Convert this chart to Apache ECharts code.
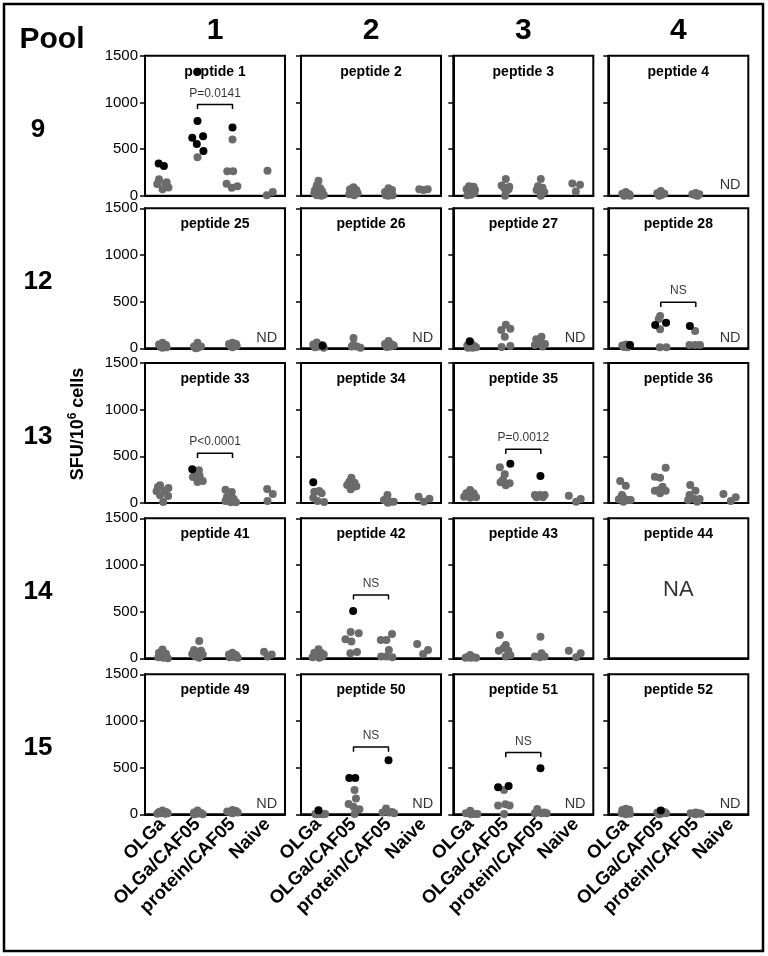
<!DOCTYPE html>
<html><head><meta charset="utf-8">
<script src="https://cdn.jsdelivr.net/npm/echarts@6/dist/echarts.min.js"></script>
<style>html,body{margin:0;padding:0;background:#fff}#c{width:768px;height:956px}</style>
</head><body><div id="c"></div>
<script>
// ---------- data ----------
const categories = ['OLGa', 'OLGa/CAF05', 'protein/CAF05', 'Naive'];
const yTicks = [0, 500, 1000, 1500];
const poolLabels = ['9', '12', '13', '14', '15'];
const columnLabels = ['1', '2', '3', '4'];
const peptideGrid = [[1, 2, 3, 4], [25, 26, 27, 28], [33, 34, 35, 36], [41, 42, 43, 44], [49, 50, 51, 52]];

// points: [category position (index + jitter), SFU/10^6 cells]
const pep1Gray = [[-0.1,175],[-0.15,125],[0.08,130],[0.0,68],[0.17,89],[0.12,145],[1.0,411],[2.0,603],[1.85,261],[2.02,261],[1.83,129],[1.98,86],[2.14,100],[3.0,268],[2.98,5],[3.15,40]];
const pep1Black = [[-0.11,346],[0.04,318],[1.0,1328],[1.0,800],[0.85,621],[1.16,636],[0.98,553],[1.17,478],[2.0,732]];
const pep2Gray = [[0,160],[-0.05,110],[0.05,80],[-0.1,60],[0.1,50],[-0.12,30],[0.03,20],[0.15,10],[-0.05,5],[0.08,0],[1,90],[0.9,70],[1.08,60],[0.95,40],[1.12,25],[0.88,15],[1.02,5],[2,80],[2.1,60],[1.9,40],[2.05,20],[1.92,5],[2.12,5],[2,0],[2.88,70],[3.0,60],[3.12,70]];
const pep2Black = [];
const pep3Gray = [[-0.05,100],[0.08,95],[-0.12,70],[0.12,60],[0,50],[-0.08,30],[0.1,25],[0,10],[-0.1,5],[1,180],[0.88,110],[1.1,95],[0.95,85],[1.08,70],[1,40],[0.98,0],[2,180],[1.92,100],[2.05,85],[1.88,60],[2.1,40],[2,25],[2,0],[2.9,131],[3.12,117],[3.0,46]];
const pep3Black = [];
const pep4Gray = [[0,40],[-0.1,20],[0.1,15],[0,5],[-0.05,0],[0.12,0],[1,50],[0.9,25],[1.1,20],[1,5],[0.95,0],[2,30],[1.9,15],[2.1,15],[2,5],[2.05,0]];
const pep4Black = [];
const pep25Gray = [[0,60],[-0.1,40],[0.1,35],[-0.05,15],[0.12,10],[0,5],[1,60],[0.9,20],[1.1,20],[1,5],[0.95,0],[2,60],[1.9,45],[2.1,45],[1.95,25],[2.12,25],[2,10]];
const pep25Black = [];
const pep26Gray = [[-0.05,61],[-0.15,40],[0.1,35],[0,20],[0.15,5],[-0.1,10],[1,111],[0.95,18],[1.1,18],[1.2,5],[1,40],[2,78],[1.9,45],[2.1,40],[2.05,20],[1.95,15],[2.15,30]];
const pep26Black = [[0.12,28]];
const pep27Gray = [[0,60],[-0.1,30],[0.1,25],[0.05,5],[-0.08,5],[0.15,10],[0.87,196],[1.0,253],[1.13,210],[0.97,125],[0.88,14],[1.13,25],[2.02,125],[1.87,96],[1.98,60],[2.12,45],[1.83,36],[2.05,20]];
const pep27Black = [[-0.03,75]];
const pep28Gray = [[0,40],[-0.1,30],[0.1,30],[-0.05,15],[0.05,10],[0.98,346],[0.94,314],[0.98,204],[0.97,11],[1.16,11],[1.98,186],[1.82,36],[1.98,36],[2.12,36]];
const pep28Black = [[0.12,36],[0.84,250],[1.15,275],[1.83,239]];
const pep33Gray = [[-0.07,189],[0.17,161],[-0.17,125],[0.06,130],[-0.07,82],[0.16,75],[0.02,11],[-0.13,171],[0.93,325],[1.04,350],[1.06,293],[0.87,279],[1.0,225],[1.15,236],[1.8,143],[1.98,118],[1.84,64],[2.03,46],[1.8,21],[1.95,7],[2.1,7],[2.99,150],[3.15,96],[3.0,21]];
const pep33Black = [[0.85,361]];
const pep34Gray = [[0.02,129],[-0.12,121],[0.09,104],[-0.15,57],[-0.03,21],[0.16,11],[0.94,271],[0.88,229],[1.03,218],[0.82,193],[1.0,175],[0.92,146],[1.08,180],[1.97,86],[1.87,32],[2.06,14],[2.15,14],[1.98,4],[2.86,68],[3.17,46],[3.01,14]];
const pep34Black = [[-0.15,221]];
const pep35Gray = [[-0.02,139],[-0.13,104],[0.08,104],[-0.02,57],[-0.19,68],[0.15,61],[0.83,382],[0.97,307],[0.85,221],[1.11,211],[1.0,189],[0.92,250],[1.83,86],[1.97,86],[2.11,86],[1.88,61],[2.06,61],[2.8,79],[3.14,43],[3.01,14]];
const pep35Black = [[1.13,421],[1.99,289]];
const pep36Gray = [[-0.16,236],[0,186],[-0.11,86],[-0.07,57],[-0.2,39],[0.05,32],[0.14,32],[-0.07,14],[0.83,282],[0.98,271],[1.14,379],[1.05,175],[0.95,139],[0.83,132],[1.14,132],[0.98,104],[1.84,193],[1.99,132],[1.82,86],[1.96,43],[2.11,43],[1.78,32],[2.04,14],[2.79,96],[3.14,61],[3.0,21]];
const pep36Black = [];
const pep41Gray = [[0,95],[-0.1,60],[0.1,50],[-0.05,30],[0.08,20],[-0.12,10],[0.02,5],[0.15,0],[1.05,185],[0.9,90],[1.1,80],[1,60],[0.85,45],[1.15,40],[0.95,20],[1.05,5],[2,60],[1.9,40],[2.1,35],[2.05,15],[1.92,10],[2.15,5],[2.9,70],[3.12,40],[3.0,20]];
const pep41Black = [];
const pep42Gray = [[0,96],[-0.12,60],[0.07,60],[-0.08,25],[0.11,18],[-0.17,11],[0.15,40],[0.02,5],[0.92,282],[1.15,268],[0.77,204],[0.94,179],[0.91,54],[1.1,68],[1.78,196],[1.94,196],[2.1,261],[2.01,89],[1.79,18],[1.94,18],[2.11,11],[2.82,154],[3.13,89],[2.99,46]];
const pep42Black = [[0.99,507]];
const pep43Gray = [[-0.02,36],[-0.11,11],[0.08,11],[0.0,5],[-0.15,5],[0.15,5],[0.83,250],[1,143],[0.93,107],[0.8,82],[1.07,82],[1,18],[1.13,32],[1.99,232],[2.02,54],[1.83,18],[2.11,18],[1.97,11],[2.8,82],[3.14,54],[3.01,11]];
const pep43Black = [];
const pep44Gray = [];
const pep44Black = [];
const pep49Gray = [[0,40],[-0.1,25],[0.1,25],[-0.05,10],[0.08,5],[0.15,10],[-0.15,5],[1,40],[0.9,20],[1.1,15],[1,5],[0.9,0],[1.15,0],[2,45],[1.85,30],[2.1,35],[1.95,20],[2.15,20],[2,10]];
const pep49Black = [];
const pep50Gray = [[-0.09,4],[0.05,4],[0.19,4],[-0.05,0],[0.12,0],[1.03,261],[1.07,168],[0.86,111],[1.0,82],[1.17,54],[1.03,4],[1.93,61],[1.83,18],[2.02,18],[2.16,11],[2.1,25]];
const pep50Black = [[0,43],[0.88,389],[1.05,389],[2.0,579]];
const pep51Gray = [[-0.02,39],[-0.14,11],[0.09,4],[0.19,4],[0.0,0],[0.95,261],[0.78,93],[0.99,107],[1.11,93],[0.95,4],[1.9,57],[1.83,11],[2.02,11],[2.17,11],[2.1,20]];
const pep51Black = [[0.78,289],[1.08,304],[1.99,493]];
const pep52Gray = [[0,60],[-0.1,45],[0.1,50],[-0.05,25],[0.08,20],[-0.12,10],[0.12,5],[0,0],[0.9,20],[1.1,25],[1,5],[0.95,0],[1.15,10],[2,20],[1.85,10],[2.1,10],[1.95,5],[2.15,5],[2,0]];
const pep52Black = [[1,40]];

// significance brackets (OLGa/CAF05 vs protein/CAF05)
const bracketPeptides = [1, 28, 33, 35, 42, 50, 51];
const bracketLabels = ['P=0.0141', 'NS', 'P<0.0001', 'P=0.0012', 'NS', 'NS', 'NS'];
const bracketLevels = [978, 493, 532, 575, 679, 721, 661];
const ndPeptides = [4, 25, 26, 27, 28, 49, 50, 51, 52];
const naPeptides = [44];

// ---------- layout ----------
const pointSets = {
  1:[pep1Gray,pep1Black],2:[pep2Gray,pep2Black],3:[pep3Gray,pep3Black],4:[pep4Gray,pep4Black],
  25:[pep25Gray,pep25Black],26:[pep26Gray,pep26Black],27:[pep27Gray,pep27Black],28:[pep28Gray,pep28Black],
  33:[pep33Gray,pep33Black],34:[pep34Gray,pep34Black],35:[pep35Gray,pep35Black],36:[pep36Gray,pep36Black],
  41:[pep41Gray,pep41Black],42:[pep42Gray,pep42Black],43:[pep43Gray,pep43Black],44:[pep44Gray,pep44Black],
  49:[pep49Gray,pep49Black],50:[pep50Gray,pep50Black],51:[pep51Gray,pep51Black],52:[pep52Gray,pep52Black]
};
const colLeft = [145, 301, 453.3, 608.3];
const rowTop = [55.7, 208.3, 363, 518.3, 674.3];
const W = 140, H = 140;
const FONT = '"Liberation Sans", Arial, sans-serif';
const GRAY = '#6b6b6b';

const grid = [], xAxis = [], yAxis = [], series = [], graphic = [];
let gi = 0;
peptideGrid.forEach((row, r) => {
  row.forEach((pep, c) => {
    grid.push({ show: true, left: colLeft[c], top: rowTop[r], width: W, height: H,
      borderColor: '#000', borderWidth: 2, backgroundColor: '#fff' });
    const bottom = r === peptideGrid.length - 1;
    xAxis.push({ type: 'category', gridIndex: gi, data: categories, boundaryGap: true, position: 'bottom',
      axisLine: { onZero: false, lineStyle: { color: '#000', width: 2 } },
      axisTick: { alignWithLabel: true, length: 5, lineStyle: { color: '#000', width: 1.5 } },
      axisLabel: { show: bottom, rotate: 45, margin: 7, color: '#000', fontWeight: 'bold', fontSize: 18.5, fontFamily: FONT, interval: 0 },
      splitLine: { show: false } });
    xAxis.push({ type: 'value', gridIndex: gi, min: -0.5, max: 3.5, show: false });
    yAxis.push({ type: 'value', gridIndex: gi, min: yTicks[0], max: yTicks[yTicks.length - 1], interval: 500, position: 'left',
      axisLine: { show: true, onZero: false, lineStyle: { color: '#000', width: 2 } },
      axisTick: { show: true, length: 5, lineStyle: { color: '#000', width: 1.5 } },
      axisLabel: { show: c === 0, color: '#000', fontSize: 15, fontFamily: FONT, margin: 7, formatter: v => String(v) },
      splitLine: { show: false } });
    const [g, b] = pointSets[pep];
    const xi = 2 * gi + 1;
    series.push({ type: 'scatter', xAxisIndex: xi, yAxisIndex: gi, data: g, symbolSize: 8,
      itemStyle: { color: GRAY, opacity: 1 }, z: 3, silent: true });
    series.push({ type: 'scatter', xAxisIndex: xi, yAxisIndex: gi, data: b, symbolSize: 8,
      itemStyle: { color: '#000', opacity: 1 }, z: 4, silent: true });
    const texts = [];
    const bi = bracketPeptides.indexOf(pep);
    if (bi >= 0) {
      const y = bracketLevels[bi];
      series.push({ type: 'line', xAxisIndex: xi, yAxisIndex: gi, symbol: 'none', silent: true,
        data: [[1, y - 50], [1, y], [2, y], [2, y - 50]],
        lineStyle: { color: '#000', width: 1.5 }, z: 5 });
      texts.push({ value: [1.5, y + 120], name: bracketLabels[bi], fs: 12 });
    }
    if (ndPeptides.includes(pep)) texts.push({ value: [2.98, 115], name: 'ND', fs: 14.5 });
    if (naPeptides.includes(pep)) texts.push({ value: [1.5, 730], name: 'NA', fs: 22 });
    texts.forEach(t => {
      series.push({ type: 'scatter', xAxisIndex: xi, yAxisIndex: gi, symbolSize: 1, silent: true,
        itemStyle: { color: 'rgba(0,0,0,0)' }, z: 6,
        data: [{ value: t.value, name: t.name }],
        label: { show: true, position: 'inside', formatter: '{b}', color: '#000', fontSize: t.fs, fontFamily: FONT } });
    });
    graphic.push({ type: 'text', x: colLeft[c] + W / 2, y: rowTop[r] + 16, z: 1,
      style: { text: 'peptide ' + pep, fill: '#000', font: 'bold 14px ' + FONT, textAlign: 'center', textVerticalAlign: 'middle' } });
    gi++;
  });
});

// headers
graphic.push({ type: 'rect', shape: { x: 4, y: 4, width: 759, height: 947 }, style: { fill: 'none', stroke: '#000', lineWidth: 2.5 }, z: 20 });
graphic.push({ type: 'text', x: 52, y: 40, style: { text: 'Pool', fill: '#000', font: 'bold 30px ' + FONT, textAlign: 'center', textVerticalAlign: 'middle' }, z: 10 });
columnLabels.forEach((t, c) => graphic.push({ type: 'text', x: colLeft[c] + W / 2, y: 31,
  style: { text: t, fill: '#000', font: 'bold 30px ' + FONT, textAlign: 'center', textVerticalAlign: 'middle' }, z: 10 }));
poolLabels.forEach((t, r) => graphic.push({ type: 'text', x: 38, y: rowTop[r] + H / 2 + 4,
  style: { text: t, fill: '#000', font: 'bold 26px ' + FONT, textAlign: 'center', textVerticalAlign: 'middle' }, z: 10 }));
graphic.push({ type: 'text', x: 77, y: 424, rotation: Math.PI / 2,
  style: { text: '{a|SFU/10}{s|6}{a| cells}', rich: { a: { font: 'bold 18px ' + FONT, fill: '#000', verticalAlign: 'bottom' }, s: { font: 'bold 12px ' + FONT, fill: '#000', verticalAlign: 'top', padding: [0, 0, 9, 0] } },
    textAlign: 'center', textVerticalAlign: 'middle' }, z: 10 });

const chart = echarts.init(document.getElementById('c'), null, { renderer: 'canvas' });
chart.setOption({ animation: false, backgroundColor: '#fff', grid, xAxis, yAxis, series, graphic });
</script></body></html>
